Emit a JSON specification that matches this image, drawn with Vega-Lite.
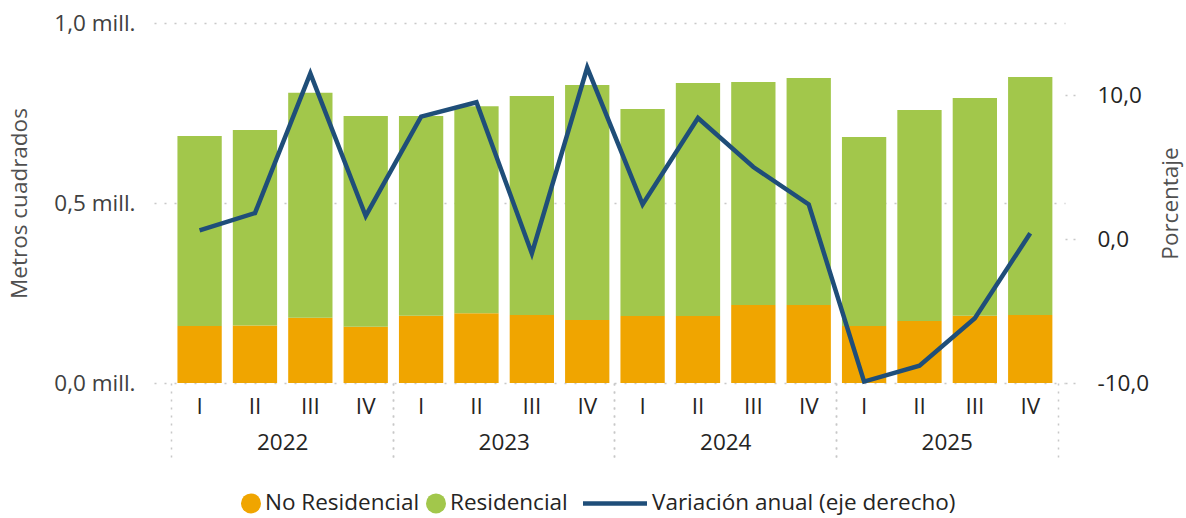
{
  "$schema": "https://vega.github.io/schema/vega-lite/v6.json",
  "autosize": {"type": "none"},
  "padding": {"left": 154, "top": 23, "right": 121, "bottom": 135},
  "width": 911,
  "height": 360,
  "config": {
    "font": "Open Sans",
    "view": {"stroke": null},
    "axis": {"labelFont": "Open Sans", "titleFont": "Open Sans", "titleFontWeight": "normal"}
  },
  "data": {
    "values": [
      {"key": "2022-I", "year": "2022", "No Residencial": 0.158, "Residencial": 0.528, "var": 0.6},
      {"key": "2022-II", "year": "2022", "No Residencial": 0.160, "Residencial": 0.543, "var": 1.8},
      {"key": "2022-III", "year": "2022", "No Residencial": 0.181, "Residencial": 0.625, "var": 11.5},
      {"key": "2022-IV", "year": "2022", "No Residencial": 0.156, "Residencial": 0.586, "var": 1.6},
      {"key": "2023-I", "year": "2023", "No Residencial": 0.187, "Residencial": 0.555, "var": 8.5},
      {"key": "2023-II", "year": "2023", "No Residencial": 0.194, "Residencial": 0.575, "var": 9.5},
      {"key": "2023-III", "year": "2023", "No Residencial": 0.189, "Residencial": 0.608, "var": -1.0},
      {"key": "2023-IV", "year": "2023", "No Residencial": 0.175, "Residencial": 0.653, "var": 11.9},
      {"key": "2024-I", "year": "2024", "No Residencial": 0.186, "Residencial": 0.575, "var": 2.4},
      {"key": "2024-II", "year": "2024", "No Residencial": 0.186, "Residencial": 0.647, "var": 8.4},
      {"key": "2024-III", "year": "2024", "No Residencial": 0.217, "Residencial": 0.619, "var": 5.0},
      {"key": "2024-IV", "year": "2024", "No Residencial": 0.217, "Residencial": 0.630, "var": 2.4},
      {"key": "2025-I", "year": "2025", "No Residencial": 0.158, "Residencial": 0.525, "var": -9.9},
      {"key": "2025-II", "year": "2025", "No Residencial": 0.172, "Residencial": 0.586, "var": -8.8},
      {"key": "2025-III", "year": "2025", "No Residencial": 0.187, "Residencial": 0.605, "var": -5.5},
      {"key": "2025-IV", "year": "2025", "No Residencial": 0.189, "Residencial": 0.661, "var": 0.4}
    ]
  },
  "layer": [
    {
      "transform": [{"fold": ["No Residencial", "Residencial"], "as": ["serie", "valor"]}],
      "mark": {"type": "bar"},
      "encoding": {
        "x": {
          "field": "key", "type": "nominal", "sort": null,
          "scale": {"type": "band", "paddingInner": 0.2, "paddingOuter": 0.3256, "align": 0.65},
          "axis": {
            "orient": "bottom", "title": null, "labelExpr": "split(datum.value, '-')[1]",
            "labelAngle": 0, "ticks": false, "tickSize": 0, "domain": false,
            "labelFontSize": 22.5, "labelPadding": 12, "labelColor": "#252423"
          }
        },
        "y": {
          "field": "valor", "type": "quantitative", "stack": "zero",
          "scale": {"domain": [0, 1], "nice": false},
          "axis": {
            "values": [0, 0.5, 1], "title": "Metros cuadrados",
            "labelExpr": "replace(format(datum.value, '.1f'), '.', ',') + ' mill.'",
            "grid": true, "gridDash": [2, 8], "gridColor": "#c8c8c8", "gridWidth": 1.5,
            "domain": false, "ticks": false, "tickSize": 0,
            "labelFontSize": 22.5, "labelColor": "#404040", "labelPadding": 19,
            "titleFontSize": 22.5, "titleColor": "#505050", "titlePadding": 22
          }
        },
        "order": {"field": "serie", "type": "nominal", "sort": "ascending"},
        "color": {
          "field": "serie", "type": "nominal",
          "scale": {
            "domain": ["No Residencial", "Residencial", "Variación anual (eje derecho)"],
            "range": ["#F0A500", "#A2C74B", "#1F4E79"]
          },
          "legend": {
            "orient": "none", "legendX": 87, "legendY": 469, "direction": "horizontal",
            "title": null, "labelFontSize": 22.5, "labelColor": "#252423", "labelFont": "Open Sans",
            "labelLimit": 500,
            "symbolSize": 400, "symbolType": "circle", "columnPadding": 6, "labelOffset": 4, "padding": 0,
            "encode": {
              "symbols": {
                "update": {
                  "shape": {"signal": "datum.value === 'Variación anual (eje derecho)' ? 'stroke' : 'circle'"},
                  "size": {"signal": "datum.value === 'Variación anual (eje derecho)' ? 4096 : 400"},
                  "x": {"signal": "datum.value === 'Variación anual (eje derecho)' ? 32 : 10"},
                  "fill": {"signal": "datum.value === 'Variación anual (eje derecho)' ? 'transparent' : scale('color', datum.value)"},
                  "stroke": {"signal": "scale('color', datum.value)"},
                  "strokeWidth": {"signal": "datum.value === 'Variación anual (eje derecho)' ? 4.5 : 0"},
                  "opacity": {"value": 1}
                }
              },
              "labels": {
                "update": {
                  "x": {"signal": "datum.value === 'Variación anual (eje derecho)' ? 69 : 24"}
                }
              }
            }
          }
        }
      }
    },
    {
      "mark": {"type": "line", "strokeWidth": 4.5},
      "encoding": {
        "x": {
          "field": "key", "type": "nominal", "sort": null,
          "scale": {"type": "band", "paddingInner": 0.2, "paddingOuter": 0.3256, "align": 0.65},
          "axis": null
        },
        "y": {
          "field": "var", "type": "quantitative",
          "scale": {"domain": [-10, 15], "nice": false, "zero": false},
          "axis": {
            "orient": "right", "values": [-10, 0, 10], "title": "Porcentaje",
            "labelExpr": "(datum.value < 0 ? '-' : '') + replace(format(abs(datum.value), '.1f'), '.', ',')",
            "grid": false, "domain": false, "ticks": true, "tickSize": 12, "tickDash": [2, 6],
            "tickColor": "#c8c8c8", "tickWidth": 1.5,
            "labelFontSize": 22.5, "labelColor": "#252423", "labelPadding": 20,
            "titleFontSize": 22.5, "titleColor": "#505050", "titlePadding": 34, "titleAngle": 270
          }
        },
        "color": {"datum": "Variación anual (eje derecho)"}
      }
    },
    {
      "mark": {"type": "point", "opacity": 0},
      "encoding": {
        "x": {
          "field": "year", "type": "nominal",
          "scale": {"type": "band", "paddingInner": 0, "paddingOuter": 0.0564, "align": 0.72},
          "axis": {
            "orient": "bottom", "title": null, "bandPosition": 0, "labelAngle": 0,
            "domain": false, "ticks": true, "tickSize": 79, "tickDash": [2, 6], "tickColor": "#c8c8c8", "tickWidth": 1.5,
            "labelDx": 110.75, "labelPadding": -31, "labelFontSize": 22.5, "labelColor": "#252423"
          }
        }
      }
    },
    {
      "mark": {"type": "point", "opacity": 0},
      "encoding": {
        "x": {
          "field": "year", "type": "nominal",
          "scale": {"type": "band", "paddingInner": 0, "paddingOuter": 0.0564, "align": 0.72},
          "axis": {
            "orient": "bottom", "title": null, "bandPosition": 1, "labels": false,
            "domain": false, "ticks": true, "tickSize": 79, "tickDash": [2, 6], "tickColor": "#c8c8c8", "tickWidth": 1.5
          }
        }
      }
    }
  ],
  "resolve": {"scale": {"x": "independent", "y": "independent"}}
}
